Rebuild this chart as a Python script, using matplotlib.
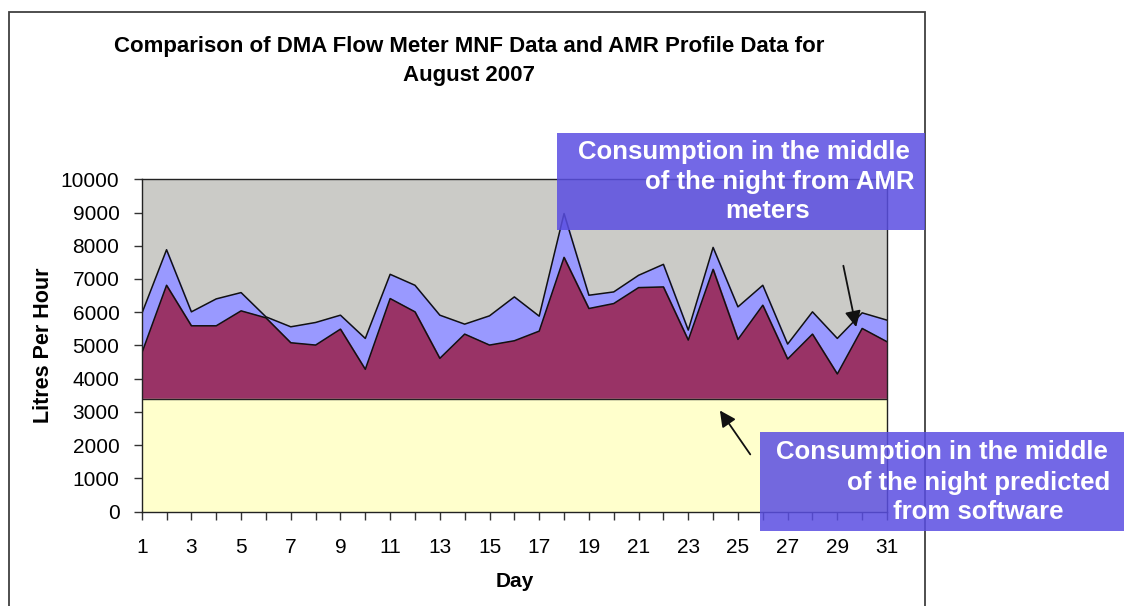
import numpy as np
import matplotlib
matplotlib.use("Agg")
import matplotlib.pyplot as plt
from matplotlib.patches import Rectangle

plt.rcParams['font.family'] = ['Liberation Sans', 'DejaVu Sans']

# Data
days = list(range(1, 32))
dma_mnf = [5950, 7880, 6010, 6400, 6590, 5860, 5560, 5690, 5910, 5210,
           7140, 6810, 5910, 5640, 5890, 6460, 5880, 8970, 6510, 6610,
           7110, 7440, 5460, 7950, 6160, 6810, 5040, 6010, 5210, 5980, 5760]
amr_profile = [4760, 6810, 5590, 5590, 6040, 5830, 5080, 5010, 5490, 4280,
               6410, 6010, 4610, 5340, 5010, 5140, 5430, 7650, 6110, 6260,
               6740, 6760, 5160, 7290, 5180, 6210, 4590, 5340, 4140, 5510, 5110]
software_pred = [3400] * 31

title = "Comparison of DMA Flow Meter MNF Data and AMR Profile Data for\nAugust 2007"
top_note = ["Consumption in the middle", "of the night from AMR", "meters"]
bottom_note = ["Consumption in the middle", "of the night predicted", "from software"]

W, H = 1124, 606
fig = plt.figure(figsize=(W / 100, H / 100), dpi=100)

def fx(px):
    return px / W

def fy(py):
    return 1 - py / H

# outer chart frame
fig.add_artist(Rectangle((fx(9), fy(640)), fx(925) - fx(9), fy(12) - fy(640),
                         transform=fig.transFigure, fill=False,
                         edgecolor='#404040', lw=1.3, zorder=0))

ax = fig.add_axes([fx(141.7), fy(511.5), fx(887) - fx(141.7), fy(179.3) - fy(511.5)])
ax.set_facecolor('#cbcbc7')

ax.fill_between(days, dma_mnf, color='#9999ff', zorder=1)
ax.plot(days, dma_mnf, color='#111111', lw=1.1, zorder=4)
ax.fill_between(days, amr_profile, color='#993366', zorder=2)
ax.plot(days, amr_profile, color='#111111', lw=1.1, zorder=4)
ax.fill_between(days, software_pred, color='#ffffcc', zorder=3)
ax.plot(days, software_pred, color='#222222', lw=1.0, zorder=4)

ax.set_xlim(1, 31)
ax.set_ylim(0, 10000)
ax.set_yticks(np.arange(0, 10001, 1000))
ax.set_xticks(days, minor=True)
ax.set_xticks(days[::2])
ax.tick_params(axis='both', labelsize=15, direction='out', length=6, width=1, color='#333333')
ax.tick_params(axis='x', which='minor', length=6, width=1, color='#333333')
ax.tick_params(axis='y', pad=10)
ax.tick_params(axis='x', pad=13)
for s in ax.spines.values():
    s.set_color('#222222')
    s.set_linewidth(1.0)
    s.set_zorder(5)

ax.set_ylabel("Litres Per Hour", fontsize=15.5, fontweight='bold')
ax.yaxis.set_label_coords((54 - 141.7) / (887 - 141.7), 0.5)
ax.set_xlabel("Day", fontsize=15, fontweight='bold', labelpad=11)

fig.text(fx(469), fy(61), title, ha='center', va='center', fontsize=16,
         fontweight='bold', linespacing=1.5)

# arrows
ax.annotate('', xy=(29.78, 5470), xytext=(29.22, 7480),
            arrowprops=dict(arrowstyle='-|>', color='#111111', lw=1.3, mutation_scale=24),
            annotation_clip=False, zorder=6)
ax.annotate('', xy=(24.21, 3110), xytext=(25.56, 1650),
            arrowprops=dict(arrowstyle='-|>', color='#111111', lw=1.3, mutation_scale=24),
            annotation_clip=False, zorder=6)

# callout boxes
box_color = '#5a4ee2'
fig.add_artist(Rectangle((fx(557), fy(230)), fx(925) - fx(557), fy(133) - fy(230),
                         transform=fig.transFigure, facecolor=box_color,
                         edgecolor='none', alpha=0.85, zorder=10))
fig.add_artist(Rectangle((fx(760), fy(531)), fx(1124) - fx(760), fy(432) - fy(531),
                         transform=fig.transFigure, facecolor=box_color,
                         edgecolor='none', alpha=0.85, zorder=10))

for txt, cx, cy in zip(top_note, [744, 780, 768], [152, 182, 211]):
    fig.text(fx(cx), fy(cy), txt, ha='center', va='center', color='white',
             fontsize=18.5, fontweight='bold', zorder=11)
for txt, cx, cy in zip(bottom_note, [942, 979, 978], [452, 483, 512]):
    fig.text(fx(cx), fy(cy), txt, ha='center', va='center', color='white',
             fontsize=18.5, fontweight='bold', zorder=11)

fig.savefig("out.png", dpi=100)
